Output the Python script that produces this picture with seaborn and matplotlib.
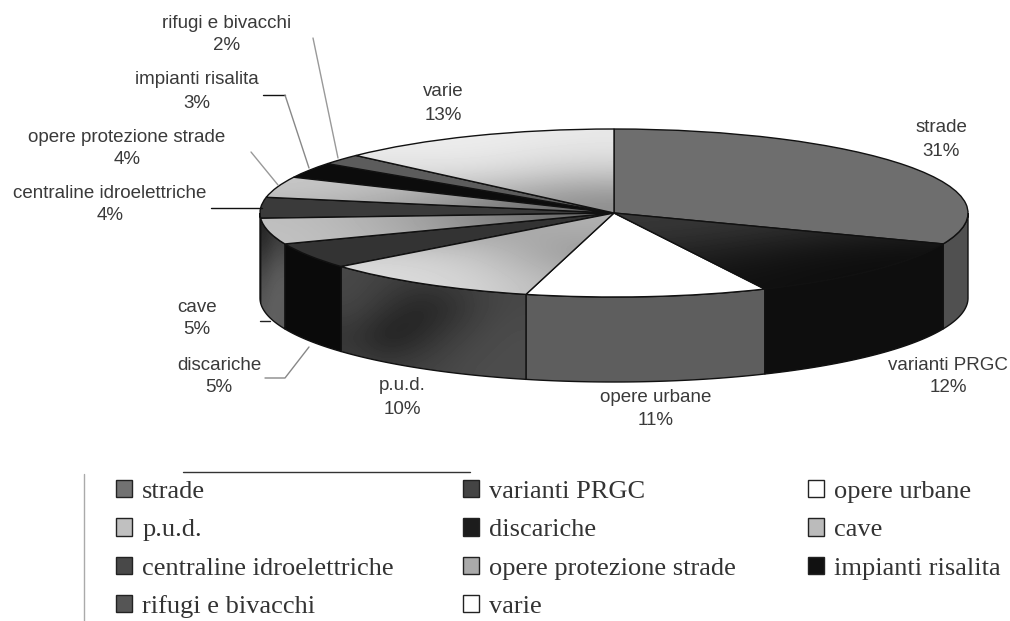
import numpy as np
import seaborn as sns
import matplotlib.pyplot as plt
from matplotlib.patches import Patch, Polygon

categories = ["strade", "varianti PRGC", "opere urbane", "p.u.d.", "discariche", "cave",
              "centraline idroelettriche", "opere protezione strade", "impianti risalita",
              "rifugi e bivacchi", "varie"]
values = [31, 12, 11, 10, 5, 5, 4, 4, 3, 2, 13]

top_colors = ["#6e6e6e", "#242424", "#ffffff", "#c4c4c4", "#333333", "#bdbdbd",
              "#3a3a3a", "#b8b8b8", "#0c0c0c", "#5c5c5c", "#ececec"]
side_colors = ["#505050", "#0e0e0e", "#5e5e5e", "#3c3c3c", "#0a0a0a", "#5a5a5a",
               "#333333", "#777777", "#0c0c0c", "#444444", "#aaaaaa"]
legend_colors = ["#727272", "#444444", "#ffffff", "#c0c0c0", "#1c1c1c", "#bbbbbb",
                 "#484848", "#aaaaaa", "#111111", "#555555", "#ffffff"]

# where the labels sit, in picture pixels
label_pos = [(941, 128), (948, 365), (656, 397), (402, 386), (219, 365), (197, 307),
             (110, 193), (127, 137), (197, 80), (227, 23), (443, 92)]

W, H = 1010, 621
CX, CY, RX, RY, DEPTH = 614, 213, 354, 84, 85


def to_data(px, py):
    return (px - CX) / RX, (CY - py) / RY


def gradient(ax, patch, grid, z):
    # gray ramp clipped to the shape of a slice
    box = patch.get_path().get_extents(patch.get_patch_transform())
    im = ax.imshow(grid, cmap="gray", vmin=0, vmax=1, interpolation="bicubic", aspect="auto",
                   extent=(box.x0, box.x1, box.y0, box.y1), zorder=z)
    im.set_clip_path(patch)


def leader(ax, pts, color):
    xy = [to_data(*p) for p in pts]
    ax.plot(*zip(*xy), color=color, lw=1, zorder=6)


sns.set_theme(style="white")
plt.rcParams["font.family"] = ["Liberation Sans", "DejaVu Sans"]

fig = plt.figure(figsize=(W / 100, H / 100), dpi=100)
ax = fig.add_axes([0, 0, 1, 1])

wedges, _ = ax.pie(values, colors=sns.color_palette(top_colors), startangle=90, counterclock=False,
                   radius=1, wedgeprops={"edgecolor": "#111111", "linewidth": 1, "zorder": 3})

# side wall of the disc, only the front half shows
depth = DEPTH / RY
ends = np.cumsum(values) / sum(values) * 360
starts = np.r_[0, ends[:-1]]
for i, (a, b) in enumerate(zip(starts, ends)):
    lo, hi = max(a, 90), min(b, 270)
    if hi <= lo:
        continue
    t = np.radians(np.linspace(lo, hi, 80))
    x, y = np.sin(t), np.cos(t)
    wall = Polygon(np.r_[np.c_[x, y], np.c_[x, y - depth][::-1]], closed=True, facecolor=side_colors[i],
                   edgecolor="#111111", lw=1, zorder=2)
    ax.add_patch(wall)
    if categories[i] == "p.u.d.":
        gradient(ax, wall, [[.28, .26, .24, .24, .26, .28], [.27, .20, .13, .17, .25, .28],
                            [.20, .11, .16, .24, .28, .30], [.25, .24, .26, .28, .30, .30]], 2.5)
        wall.set_facecolor("none")
        wall.set_zorder(2.6)
    if categories[i] == "cave":
        gradient(ax, wall, [[.14, .20, .22], [.30, .36, .38], [.36, .38, .36]], 2.5)
        wall.set_facecolor("none")
        wall.set_zorder(2.6)

# the light slices fade towards the centre, varianti gets darker towards the rim
for name, grid in [("p.u.d.", [[.55, .62, .70], [.84, .78, .58], [.86, .84, .70]]),
                   ("varie", [[.93, .93, .91], [.88, .88, .80], [.70, .66, .55]]),
                   ("cave", [[.75, .62, .40], [.76, .65, .45]]),
                   ("opere protezione strade", [[.78, .72, .50], [.72, .60, .40]]),
                   ("varianti PRGC", [[.22, .20, .14], [.16, .09, .06], [.08, .06, .05]])]:
    w = wedges[categories.index(name)]
    gradient(ax, w, grid, 3.5)
    w.set_facecolor("none")
    w.set_zorder(3.6)

for name, pct, (px, py) in zip(categories, values, label_pos):
    ax.text(*to_data(px, py), name, ha="center", va="center", fontsize=13.5, color="#3a3a3a")
    ax.text(*to_data(px, py + 23), f"{pct}%", ha="center", va="center", fontsize=13.5, color="#3a3a3a")

leader(ax, [(313, 38), (338, 158)], "#999999")
leader(ax, [(263, 95), (285, 95)], "#111111")
leader(ax, [(285, 95), (309, 168)], "#888888")
leader(ax, [(251, 152), (278, 185)], "#999999")
leader(ax, [(211, 208), (262, 208)], "#111111")
leader(ax, [(260, 321), (270, 321)], "#222222")
leader(ax, [(265, 378), (285, 378), (309, 347)], "#888888")

# remains of the legend frame
leader(ax, [(183, 472), (470, 472)], "#333333")
leader(ax, [(84, 474), (84, 621)], "#aaaaaa")

ax.set_aspect("auto")
ax.set_xlim(to_data(0, 0)[0], to_data(W, 0)[0])
ax.set_ylim(to_data(0, H)[1], to_data(0, 0)[1])

# three separate columns so each one starts where the original does
for col, left in zip(range(3), (116, 463, 808)):
    idx = list(range(col, len(categories), 3))
    handles = [Patch(facecolor=legend_colors[i], edgecolor="#222222", lw=1) for i in idx]
    fig.legend(handles, [categories[i] for i in idx], loc="upper left", bbox_to_anchor=(left / W, 1 - 480 / H),
               frameon=False, prop={"family": "Liberation Serif", "size": 19}, labelcolor="#333333",
               handlelength=0.62, handleheight=0.62, handletextpad=0.37, labelspacing=0.59,
               borderpad=0, borderaxespad=0)

fig.savefig("out.png", dpi=100, facecolor="white")
